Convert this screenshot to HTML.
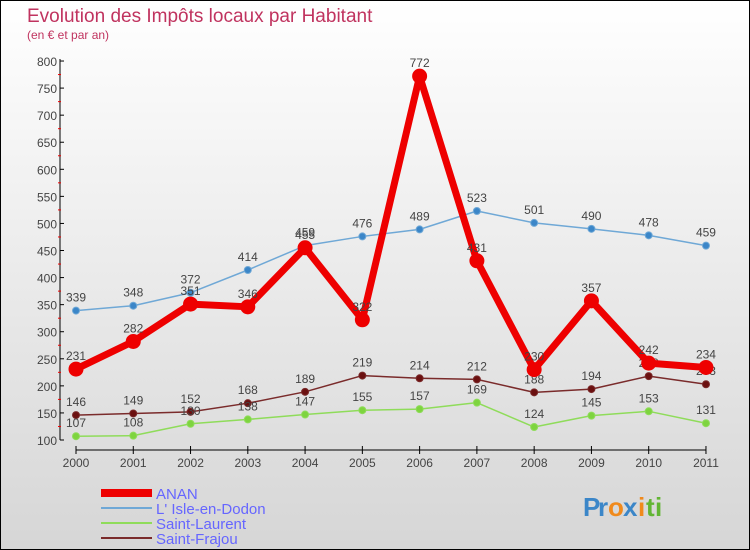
<!DOCTYPE html>
<html><head><meta charset="utf-8"><style>
body{margin:0}
#c{width:748px;height:548px;border:1px solid #000;background:linear-gradient(#fff,#d6d6d6);position:relative;font-family:"Liberation Sans",sans-serif;overflow:hidden}
</style></head><body>
<div id="c">
<svg id="s" width="748" height="548"></svg>
</div>
<script>
const years=["2000","2001","2002","2003","2004","2005","2006","2007","2008","2009","2010","2011"];
const anan=[231,282,351,346,455,322,772,431,230,357,242,234];
const isle=[339,348,372,414,459,476,489,523,501,490,478,459];
const laurent=[107,108,130,138,147,155,157,169,124,145,153,131];
const frajou=[146,149,152,168,189,219,214,212,188,194,218,203];
const yTicks=[100,150,200,250,300,350,400,450,500,550,600,650,700,750,800];
const NS="http://www.w3.org/2000/svg";
const s=document.getElementById('s');
const X=i=>75+i*57.27;
const Y=v=>439-(v-100)*0.5414;
function el(t,a,p){const e=document.createElementNS(NS,t);for(const k in a)e.setAttribute(k,a[k]);(p||s).appendChild(e);return e;}
function tx(x,y,str,a){const e=el('text',Object.assign({x:x,y:y},a));e.textContent=str;return e;}
let t=tx(26,21,"Evolution des Impôts locaux par Habitant",{fill:"#c0335f","font-size":"19"});

t=tx(26,38,"(en € et par an)",{fill:"#c0335f","font-size":"12"});

let ax=el('line',{x1:59,y1:58,x2:59,y2:439,stroke:"#000"});

yTicks.forEach(v=>{
  el('line',{x1:59,y1:Y(v),x2:63,y2:Y(v),stroke:"#000"});
  if(v<800)el('line',{x1:57,y1:Y(v+25),x2:60,y2:Y(v+25),stroke:"#e00"});
  const l=tx(56,Y(v)+5,String(v),{fill:"#444","font-size":"12","text-anchor":"end"});
  
});
ax=el('line',{x1:75,y1:449,x2:705,y2:449,stroke:"#000"});

years.forEach((y,i)=>{
  el('line',{x1:X(i),y1:445,x2:X(i),y2:453,stroke:"#000"});
  const l=tx(X(i),466,y,{fill:"#444","font-size":"12","text-anchor":"middle"});
  
});
function series(data,color,w,r,dot,name){
  const g=el('g',{});
  
  el('polyline',{points:data.map((v,i)=>X(i)+","+Y(v)).join(" "),fill:"none",stroke:color,"stroke-width":w,"stroke-linejoin":"round"},g);
  data.forEach((v,i)=>{
    const c=el('circle',{cx:X(i),cy:Y(v),r:r,fill:dot,stroke:color,"stroke-width":1},g);
    
    const l=tx(X(i),Y(v)-9,String(v),{fill:"#444","font-size":"12","text-anchor":"middle"},g);
    
  });
}
series(isle,"#6fa8d6",1.5,3.5,"#3b86c8","isle-en-dodon");
series(frajou,"#7a2b2b",1.5,3.5,"#6b1010","saint-frajou");
series(laurent,"#8fdc5a",1.5,3.5,"#7ed43f","saint-laurent");
series(anan,"#ee0000",7,7,"#ee0000","anan");
const leg=[["ANAN","#ee0000",8],["L' Isle-en-Dodon","#6fa8d6",2],["Saint-Laurent","#8fdc5a",2],["Saint-Frajou","#7a2b2b",2]];
leg.forEach((l,i)=>{
  const g=el('g',{});
  
  const yy=492+i*15;
  el('line',{x1:100,y1:yy,x2:151,y2:yy,stroke:l[1],"stroke-width":l[2]},g);
  tx(155,yy+6,l[0],{fill:"#6666ff","font-size":"15"},g);
});
const lg=el('g',{});

[["P","#3b86c8"],["r","#3b86c8"],["o","#f08a1c"],["x","#3b86c8"],["i","#f08a1c"],["t","#62b534"],["i","#62b534"]].forEach((c,i)=>{
  tx(582+[0,15,25,40,55,63,72][i],515,c[0],{fill:c[1],"font-size":"26","font-weight":"bold"},lg);
});
</script>
</body></html>
